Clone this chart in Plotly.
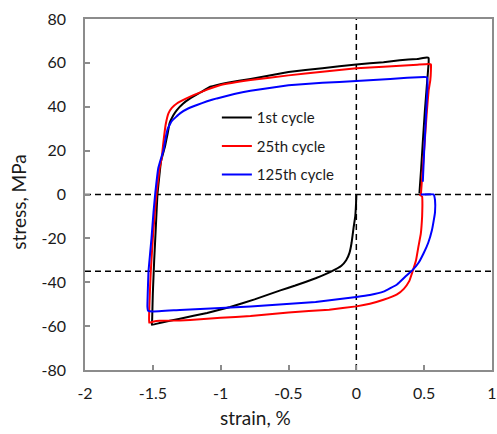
import plotly.graph_objects as go

# 1st cycle
strain_1 = [0, -0.002, -0.008, -0.02, -0.035, -0.05, -0.075, -0.11, -0.19, -0.3, -0.45, -0.56, -0.75,
            -0.93, -1.1, -1.3, -1.45, -1.507, -1.505, -1.5, -1.49, -1.478, -1.466, -1.44, -1.41, -1.39,
            -1.377, -1.35, -1.323, -1.28, -1.225, -1.15, -1.077, -0.95, -0.78, -0.5, -0.25, 0, 0.2,
            0.32, 0.447, 0.52, 0.533, 0.533, 0.52, 0.505, 0.49, 0.478, 0.465]
stress_1 = [0, -4, -10, -15, -22, -26.5, -30, -32.5, -35.3, -38.2, -41.5, -43.7, -47.8,
            -51.3, -54, -56.6, -58.6, -59.4, -57, -45, -30, -15, 0, 15, 22, 28,
            32.4, 36, 38.5, 41.3, 43.8, 46.5, 49.1, 51, 52.7, 55.8, 57.6, 59.3, 60.3,
            61.2, 61.8, 62.5, 62.2, 60, 50, 38, 24, 12, 0.5]

# 25th cycle
strain_25 = [0.465, 0.485, 0.487, 0.485, 0.475, 0.457, 0.44, 0.417, 0.39, 0.35, 0.3, 0.2, 0.1, 0,
             -0.2, -0.5, -0.78, -1.0, -1.15, -1.3, -1.45, -1.5, -1.527, -1.525, -1.52, -1.515, -1.5,
             -1.485, -1.474, -1.45, -1.433, -1.429, -1.42, -1.405, -1.385, -1.36, -1.323, -1.26, -1.2,
             -1.1, -1.0, -0.78, -0.5, -0.25, 0, 0.2, 0.324, 0.45, 0.53, 0.55, 0.55, 0.545, 0.533,
             0.52, 0.505, 0.49, 0.476]
stress_25 = [0, -1, -5, -10, -18, -24, -30, -34.6, -39.5, -43, -45.5, -48, -49.8, -51,
             -52.5, -53.8, -55.4, -56.2, -56.9, -57.4, -57.6, -58, -58.4, -50, -42, -35, -20,
             -8, 0, 12, 17, 20, 25, 32, 37, 39.5, 41.5, 43.6, 45.3,
             47.8, 49.9, 52.2, 54.3, 56, 57.5, 58.2, 58.7, 59.2, 59.5, 59.3, 57, 52, 47.5,
             38, 25, 12, 0]

# 125th cycle
strain_125 = [0.475, 0.57, 0.58, 0.58, 0.57, 0.557, 0.53, 0.496, 0.46, 0.412, 0.36, 0.3, 0.2, 0.1, 0,
              -0.3, -0.78, -1.0, -1.3, -1.5, -1.535, -1.54, -1.535, -1.532, -1.51, -1.495, -1.483,
              -1.46, -1.437, -1.422, -1.405, -1.39, -1.36, -1.3, -1.24, -1.175, -1.1, -1.028, -0.9,
              -0.78, -0.5, -0.25, 0, 0.25, 0.5, 0.52, 0.525, 0.515, 0.5, 0.49]
stress_125 = [0, 0, -2.6, -8, -12, -16.3, -22, -26.8, -31, -34.6, -37.5, -41, -44.3, -45.8, -46.7,
              -49, -51, -51.7, -52.6, -53.3, -53, -51, -40, -35, -20, -8, 0,
              12, 17, 20, 26, 30, 33.5, 37, 39.2, 40.8, 42.5, 43.8, 45.8,
              47.3, 49.8, 50.9, 51.7, 52.7, 53.6, 53.5, 50, 38, 20, 5.8]

series_names = ["1st cycle", "25th cycle", "125th cycle"]
series_colors = ["#000000", "#ff0000", "#0000ff"]

x_tickvals = [-2, -1.5, -1, -0.5, 0, 0.5, 1]
x_ticktext = ["-2", "-1.5", "-1", "-0.5", "0", "0.5", "1"]
y_tickvals = [-80, -60, -40, -20, 0, 20, 40, 60, 80]
y_ticktext = ["-80", "-60", "-40", "-20", "0", "20", "40", "60", "80"]

x_title = "strain, %"
y_title = "stress, MPa"

ref_strain = 0
ref_stress = [0, -35]

FONT = "Lato, 'Open Sans', sans-serif"
TXT = "#1a1a1a"

fig = go.Figure()
for (xs, ys), name, col in zip([(strain_1, stress_1), (strain_25, stress_25), (strain_125, stress_125)],
                                series_names, series_colors):
    fig.add_trace(go.Scatter(x=xs, y=ys, mode="lines", name=name, legendgroup=name,
                             line=dict(color=col, width=2, shape="spline", smoothing=0.25)))

dash = "6px,4px"
fig.add_shape(type="line", xref="x", yref="paper", x0=ref_strain, x1=ref_strain, y0=0, y1=1,
              line=dict(color="black", width=1.5, dash=dash), layer="below")
for s in ref_stress:
    fig.add_shape(type="line", xref="paper", yref="y", x0=0, x1=1, y0=s, y1=s,
                  line=dict(color="black", width=1.5, dash=dash), layer="below")

axis_common = dict(showgrid=False, zeroline=False, showline=True, mirror=True, automargin=False,
                   linecolor="#8c8c8c", linewidth=1.5, ticks="inside", ticklen=5,
                   tickcolor="#8c8c8c", tickwidth=1.5,
                   tickfont=dict(family=FONT, size=16, color=TXT))

fig.add_annotation(text=x_title, xref="paper", yref="paper", x=0.42, y=-0.134,
                   xanchor="center", yanchor="middle", showarrow=False,
                   font=dict(family=FONT, size=19, color=TXT))
fig.add_annotation(text=y_title, xref="paper", yref="paper", x=-0.162, y=0.477,
                   xanchor="center", yanchor="middle", showarrow=False, textangle=-90,
                   font=dict(family=FONT, size=19, color=TXT))

fig.update_layout(
    width=497, height=434,
    margin=dict(l=85, r=5, t=19, b=64, autoexpand=False),
    paper_bgcolor="white", plot_bgcolor="white",
    font=dict(family=FONT, color=TXT),
    showlegend=True,
    legend=dict(x=0.324, y=0.766, xanchor="left", yanchor="top", bgcolor="rgba(0,0,0,0)",
                font=dict(family=FONT, size=15, color=TXT), itemwidth=30,
                tracegroupgap=6),
)
fig.update_xaxes(range=[-2, 1], tickvals=x_tickvals, ticktext=x_ticktext,
                 ticklabelstandoff=8, **axis_common)
fig.update_yaxes(range=[-80, 80], tickvals=y_tickvals, ticktext=y_ticktext,
                 ticklabelstandoff=14, **axis_common)

fig.write_html("out.html", config={"displayModeBar": False},
               post_script="document.body.style.margin='0';document.body.style.padding='0';")
